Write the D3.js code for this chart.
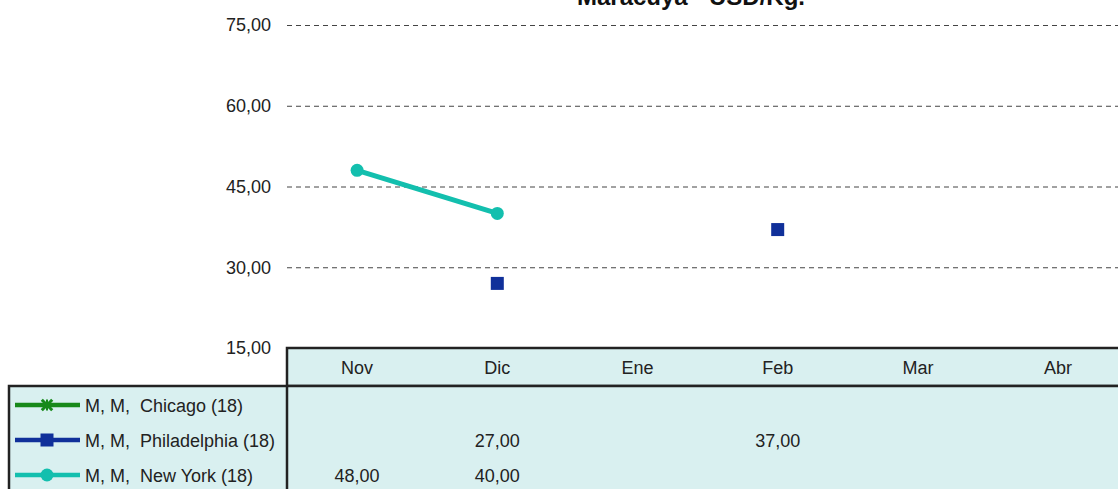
<!DOCTYPE html>
<html>
<head>
<meta charset="utf-8">
<script src="https://cdn.jsdelivr.net/npm/d3@7"></script>
<style>
  body { margin: 0; background: #fff; }
  svg { display: block; font-family: "Liberation Sans", Arial, sans-serif; }
  text { white-space: pre; }
</style>
</head>
<body>
<svg width="1118" height="489"></svg>
<script>
// chart data
const title = 'Maracuya - USD/Kg.';
const months = ['Nov', 'Dic', 'Ene', 'Feb', 'Mar', 'Abr'];
const yTicks = [15, 30, 45, 60, 75];
const seriesNames = ['M, M,  Chicago (18)', 'M, M,  Philadelphia (18)', 'M, M,  New York (18)'];
const chicagoValues = [null, null, null, null, null, null];
const philadelphiaValues = [null, 27, null, 37, null, null];
const newYorkValues = [48, 40, null, null, null, null];

const series = [
  { name: seriesNames[0], values: chicagoValues, color: '#17891a', marker: 'x' },
  { name: seriesNames[1], values: philadelphiaValues, color: '#10309a', marker: 'square' },
  { name: seriesNames[2], values: newYorkValues, color: '#13bfae', marker: 'circle' }
];

const locale = d3.formatLocale({ decimal: ',', thousands: '.', grouping: [3], currency: ['', ''] });
const fmt = locale.format('.2f');

const svg = d3.select('svg');
const plotLeft = 287, plotTop = 25, plotBottom = 348, bandW = 140.2;
const headerH = 38, rowH = 35, legendLeft = 9;

const x = d3.scaleBand().domain(months).range([plotLeft, plotLeft + bandW * months.length]);
const y = d3.scaleLinear().domain([15, 75]).range([plotBottom, plotTop]);

//title
svg.append('text')
  .attr('x', 691).attr('y', 5)
  .attr('text-anchor', 'middle')
  .style('font-weight', 'bold').style('font-size', '24px').style('fill', '#111')
  .text(title);

//gridlines
const grid = svg.append('g').attr('transform', `translate(${plotLeft},0)`)
  .call(d3.axisLeft(y).tickValues(yTicks.filter(d => d > 15)).tickSize(-(1118 - plotLeft)).tickFormat(''));
grid.select('.domain').remove();
grid.selectAll('line').attr('stroke', '#444').attr('stroke-dasharray', '5,4');

//y axis labels
const yAxis = svg.append('g').attr('transform', `translate(${plotLeft - 16},0)`)
  .call(d3.axisLeft(y).tickValues(yTicks).tickSize(0).tickFormat(fmt));
yAxis.select('.domain').remove();
yAxis.selectAll('text').attr('x', 0).style('font-size', '18px').style('fill', '#222')
  .style('font-family', '"Liberation Sans", Arial, sans-serif');

//data table
const table = svg.append('g');
const tableRight = plotLeft + bandW * months.length + 20;
table.append('rect')
  .attr('x', plotLeft).attr('y', plotBottom)
  .attr('width', tableRight - plotLeft).attr('height', headerH)
  .attr('fill', '#d9f0f0').attr('stroke', '#222').attr('stroke-width', 2.5);
table.append('rect')
  .attr('x', legendLeft).attr('y', plotBottom + headerH)
  .attr('width', tableRight - legendLeft).attr('height', rowH * series.length + 40)
  .attr('fill', '#d9f0f0').attr('stroke', '#222').attr('stroke-width', 2.5);
table.append('line')
  .attr('x1', plotLeft).attr('x2', plotLeft)
  .attr('y1', plotBottom + headerH).attr('y2', 489)
  .attr('stroke', '#222').attr('stroke-width', 2.5);

table.selectAll('.month').data(months).enter().append('text')
  .attr('class', 'month')
  .attr('x', d => x(d) + x.bandwidth() / 2)
  .attr('y', plotBottom + 26)
  .attr('text-anchor', 'middle')
  .style('font-size', '18px').style('fill', '#222')
  .text(d => d);

const drawMarker = (sel, type, color, size) => {
  if (type === 'square') {
    sel.append('rect').attr('x', -size / 2).attr('y', -size / 2)
      .attr('width', size).attr('height', size).attr('fill', color);
  } else if (type === 'circle') {
    sel.append('circle').attr('r', size / 2).attr('fill', color);
  } else {
    sel.append('path')
      .attr('d', d3.symbol(d3.symbolX, size * size * 0.6)())
      .attr('stroke', color).attr('stroke-width', 3);
    sel.append('path')
      .attr('d', `M0,${-size / 2}V${size / 2}`)
      .attr('stroke', color).attr('stroke-width', 2);
  }
};

//rows: legend key, name and values
const rows = table.selectAll('.row').data(series).enter().append('g')
  .attr('class', 'row')
  .attr('transform', (_d, i) => `translate(0, ${plotBottom + headerH + rowH * i})`);

rows.append('line')
  .attr('x1', 15).attr('x2', 80).attr('y1', 19).attr('y2', 19)
  .attr('stroke', d => d.color).attr('stroke-width', 4.5);
rows.each(function (d) {
  const g = d3.select(this).append('g').attr('transform', 'translate(47,19)');
  drawMarker(g, d.marker, d.color, d.marker === 'x' ? 11 : 13);
});
rows.append('text')
  .attr('x', 85).attr('y', 26)
  .style('font-size', '18px').style('fill', '#222')
  .text(d => d.name);
rows.selectAll('.val').data(d => d.values.map((v, i) => ({ v, m: months[i] })).filter(e => e.v !== null))
  .enter().append('text')
  .attr('class', 'val')
  .attr('x', e => x(e.m) + x.bandwidth() / 2)
  .attr('y', 26)
  .attr('text-anchor', 'middle')
  .style('font-size', '18px').style('fill', '#222')
  .text(e => fmt(e.v));

//series lines and markers
const line = d3.line()
  .defined(d => d.v !== null)
  .x(d => x(d.m) + x.bandwidth() / 2)
  .y(d => y(d.v));

const plot = svg.append('g');
series.forEach(s => {
  const pts = s.values.map((v, i) => ({ v, m: months[i] }));
  plot.append('path')
    .datum(pts)
    .attr('d', line)
    .attr('fill', 'none')
    .attr('stroke', s.color)
    .attr('stroke-width', 5);
  pts.filter(p => p.v !== null).forEach(p => {
    const g = plot.append('g')
      .attr('transform', `translate(${x(p.m) + x.bandwidth() / 2},${y(p.v)})`);
    drawMarker(g, s.marker, s.color, 13);
  });
});
</script>
</body>
</html>
